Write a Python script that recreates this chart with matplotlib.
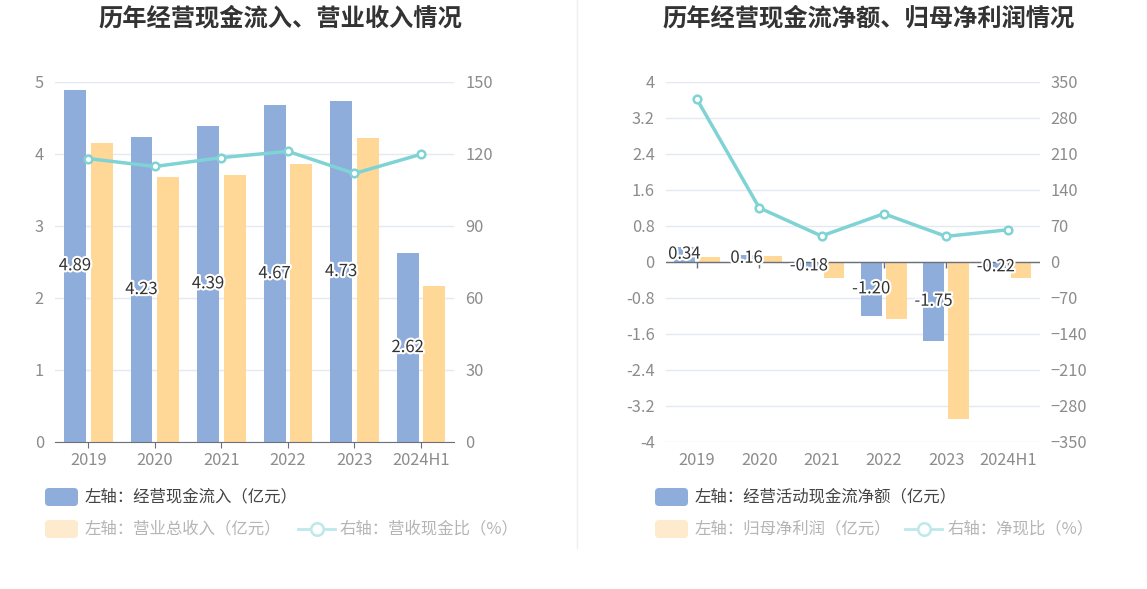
import numpy as np
import matplotlib
matplotlib.use('Agg')
import matplotlib.pyplot as plt
import matplotlib.patheffects as pe
from matplotlib.patches import FancyBboxPatch
from matplotlib.lines import Line2D

plt.rcParams['font.family'] = ['Noto Sans CJK SC', 'DejaVu Sans']

# data
years = ['2019', '2020', '2021', '2022', '2023', '2024H1']
cash_in = [4.89, 4.23, 4.39, 4.67, 4.73, 2.62]          # 经营现金流入 (亿元)
revenue = [4.15, 3.68, 3.70, 3.86, 4.22, 2.17]          # 营业总收入 (亿元)
cash_ratio = [118.0, 114.7, 118.4, 121.0, 111.8, 119.8]  # 营收现金比 (%)

net_cash = [0.34, 0.16, -0.18, -1.20, -1.75, -0.22]     # 经营活动现金流净额 (亿元)
net_profit = [0.10, 0.14, -0.35, -1.27, -3.49, -0.35]   # 归母净利润 (亿元)
net_ratio = [315.9, 105.0, 50.2, 93.5, 49.5, 62.4]      # 净现比 (%)

BLUE = '#8EADDB'
ORANGE = '#FFD797'
TEAL = '#80D3D5'
GRID = '#E3E8F2'
AXIS = '#6E7079'
TICK = '#8C8C8C'

W, H = 1147, 589
fig = plt.figure(figsize=(W / 100, H / 100), dpi=100)


def px_rect(x0, x1, ytop, ybot):
    return [x0 / W, (H - ybot) / H, (x1 - x0) / W, (ybot - ytop) / H]


def panel(rect, bars_a, bars_b, line, ylim, yticks, ylim2, yticks2, zero_line):
    ax = fig.add_axes(rect)
    x = np.arange(len(years))
    ax.bar(x - 0.2, bars_a, width=0.33, color=BLUE, zorder=2)
    ax.bar(x + 0.2, bars_b, width=0.33, color=ORANGE, zorder=2)
    for xi, v in zip(x, bars_a):
        ax.text(xi - 0.2, v / 2, f'{v:.2f}', ha='center', va='center',
                fontsize=12, color='#333333', zorder=5,
                path_effects=[pe.withStroke(linewidth=3, foreground='white')])
    ax.set_xlim(-0.5, len(years) - 0.5)
    ax.set_ylim(*ylim)
    ax.set_yticks(yticks)
    ax.set_yticklabels(['%g' % round(t, 1) for t in yticks])
    ax.set_xticks(x)
    ax.set_xticklabels(years)
    ax.grid(axis='y', color=GRID, lw=1)
    ax.set_axisbelow(True)
    for s in ['top', 'right', 'left']:
        ax.spines[s].set_visible(False)
    ax.tick_params(axis='y', length=0, pad=8, labelsize=11.8, labelcolor=TICK)
    if zero_line:
        ax.spines['bottom'].set_visible(False)
        ax.axhline(0, color=AXIS, lw=1, zorder=3)
        ax.plot(x, np.zeros(len(x)), ls='', marker=3, ms=4, color=AXIS, zorder=3)
        ax.tick_params(axis='x', length=0, pad=7, labelsize=11.8, labelcolor=TICK)
    else:
        ax.spines['bottom'].set_color(AXIS)
        ax.tick_params(axis='x', length=4, color=AXIS, pad=3,
                       labelsize=11.8, labelcolor=TICK)

    ax2 = ax.twinx()
    ax2.plot(x, line, color=TEAL, lw=2.5, marker='o', ms=5.5, mfc='white',
             mec=TEAL, mew=1.8, zorder=4)
    ax2.set_ylim(*ylim2)
    ax2.set_yticks(yticks2)
    for s in ax2.spines.values():
        s.set_visible(False)
    ax2.tick_params(axis='y', length=0, pad=8, labelsize=11.8, labelcolor=TICK)
    return ax, ax2


panel(px_rect(55, 454.3, 81.7, 442), cash_in, revenue, cash_ratio,
      (0, 5), np.arange(0, 5.1, 1), (0, 150), np.arange(0, 151, 30), False)
panel(px_rect(665.8, 1039.5, 81.7, 442), net_cash, net_profit, net_ratio,
      (-4, 4), np.linspace(-4, 4, 11), (-350, 350), np.arange(-350, 351, 70), True)

# titles
fig.text(280 / W, (H - 18.5) / H, '历年经营现金流入、营业收入情况', ha='center',
         va='center', fontsize=17.5, fontweight='bold', color='#333333')
fig.text(869 / W, (H - 18.5) / H, '历年经营现金流净额、归母净利润情况', ha='center',
         va='center', fontsize=17.5, fontweight='bold', color='#333333')

# separator
fig.add_artist(Line2D([577 / W, 577 / W], [1, (H - 548) / H], color='#EEEEEE',
                      lw=1, transform=fig.transFigure))


# legends
def legend_box(x, y, color, label, text_color):
    fig.add_artist(FancyBboxPatch((x / 100, (H - y - 9) / 100), 0.33, 0.18,
                                  boxstyle='round,pad=0,rounding_size=0.04',
                                  fc=color, ec='none', transform=fig.dpi_scale_trans))
    fig.text((x + 40) / W, (H - y) / H, label, va='center', fontsize=11.8,
             color=text_color)


def legend_line(x, y, color, label, text_color):
    fig.add_artist(Line2D([x / 100, (x + 37) / 100], [(H - y) / 100] * 2,
                          color=color, lw=2, transform=fig.dpi_scale_trans))
    fig.add_artist(Line2D([(x + 18.5) / 100], [(H - y) / 100], marker='o', ms=9,
                          mfc='white', mec=color, mew=1.8,
                          transform=fig.dpi_scale_trans))
    fig.text((x + 42) / W, (H - y) / H, label, va='center', fontsize=11.8,
             color=text_color)


legend_box(45, 497, BLUE, '左轴：经营现金流入（亿元）', '#444444')
legend_box(45, 529, '#FEEBCD', '左轴：营业总收入（亿元）', '#B5B5B5')
legend_line(298, 529, '#BEE8EA', '右轴：营收现金比（%）', '#B5B5B5')

legend_box(655, 497, BLUE, '左轴：经营活动现金流净额（亿元）', '#444444')
legend_box(655, 529, '#FEEBCD', '左轴：归母净利润（亿元）', '#B5B5B5')
legend_line(905, 529, '#BEE8EA', '右轴：净现比（%）', '#B5B5B5')

fig.savefig('out.png', dpi=100)
